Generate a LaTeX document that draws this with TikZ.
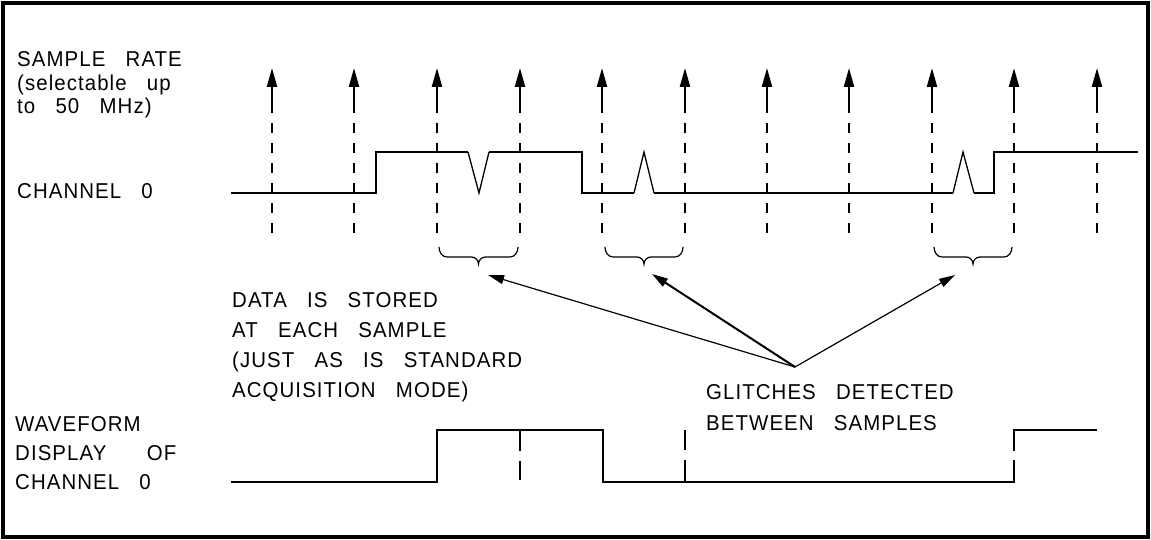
\documentclass[tikz,border=0pt]{standalone}
\usepackage{fontspec}
\setmainfont{Liberation Sans}[FakeStretch=0.95,LetterSpace=5,WordSpace=3.0]
\usetikzlibrary{arrows.meta}
\begin{document}
\begin{tikzpicture}[x=1pt,y=-1pt,
  lbl/.style={anchor=base west,inner sep=0pt,font=\fontsize{21.5}{21.5}\selectfont},
  wave/.style={line width=2.3pt,line join=miter},
  thinw/.style={line width=1.3pt},
  samp/.style={line width=2.3pt},
  sampdash/.style={line width=2.3pt,dash pattern=on 10pt off 10pt},
  brc/.style={line width=1.2pt},
  ptr/.style={line width=1.2pt,-{Triangle[length=16pt,width=9pt]}},
]
\useasboundingbox (0,0) rectangle (1151,540);
\draw[line width=3.3pt] (3,3) rectangle (1148,537);

% sample clock arrows
\foreach \xx [count=\i] in {272,354,437,520,602,685,767,849,932,1014,1097} {
  \coordinate (s\i) at (\xx,68);
  \coordinate (m\i) at (\xx,110);
  \coordinate (e\i) at (\xx,233);
  \draw[samp,-{Triangle[length=19pt,width=10pt]}] (m\i) -- (s\i);
  \draw[sampdash] (e\i) -- (m\i);
}

% channel 0 input
\draw[wave] (231,193) -- (376,193) -- (376,152) -- (468,152);
\draw[thinw] (468,152) -- (479,193) -- (489,152);
\draw[wave] (489,152) -- (582,152) -- (582,193) -- (634,193);
\draw[thinw] (634,193) -- (644,152) -- (654,193);
\draw[wave] (654,193) -- (953,193);
\draw[thinw] (953,193) -- (963,152) -- (974,193);
\draw[wave] (974,193) -- (994,193) -- (994,152) -- (1138,152);

% braces
\foreach \a/\b in {437/520, 603/685, 932/1014} {
  \pgfmathsetmacro\c{(\a+\b)/2}
  \draw[brc] (\a+2,247) to[out=-90,in=180] (\a+10,257) -- (\c-7,257)
     to[out=0,in=90] (\c,264) to[out=90,in=180] (\c+7,257) -- (\b-10,257)
     to[out=0,in=-90] (\b-2,247);
}

% pointer arrows
\coordinate (src) at (795,367);
\coordinate (t1) at (488,275);
\coordinate (t2) at (652,274);
\coordinate (t3) at (955,275);
\draw[ptr] (src) -- (t1);
\draw[ptr,line width=2pt] (src) -- (t2);
\draw[ptr] (src) -- (t3);

% displayed waveform
\draw[wave] (231,482) -- (437,482) -- (437,430) -- (603,430) -- (603,482) -- (1014,482) -- (1014,460);
\draw[wave] (1014,451) -- (1014,430) -- (1097,430);
\draw[wave] (520,430) -- (520,451);
\draw[wave] (520,461) -- (520,480);
\draw[wave] (685,430) -- (685,450);
\draw[wave] (685,460) -- (685,482);

% labels
\node[lbl] (l1) at (17,67) {SAMPLE RATE};
\node[lbl] (l2) at (17,91) {(selectable up};
\node[lbl] (l3) at (17,114) {to 50 MHz)};
\node[lbl] (l4) at (17,199) {CHANNEL 0};
\node[lbl] (d1) at (232,307) {DATA IS STORED};
\node[lbl] (d2) at (232,337) {AT EACH SAMPLE};
\node[lbl] (d3) at (232,367) {(JUST AS IS STANDARD};
\node[lbl] (d4) at (232,397) {ACQUISITION MODE)};
\node[lbl] (g1) at (706,399) {GLITCHES DETECTED};
\node[lbl] (g2) at (706,430) {BETWEEN SAMPLES};
\node[lbl] (w1) at (15,431) {WAVEFORM};
\node[lbl] (w2) at (15,460) {DISPLAY\space\space OF};
\node[lbl] (w3) at (15,489) {CHANNEL 0};
\end{tikzpicture}
\end{document}
